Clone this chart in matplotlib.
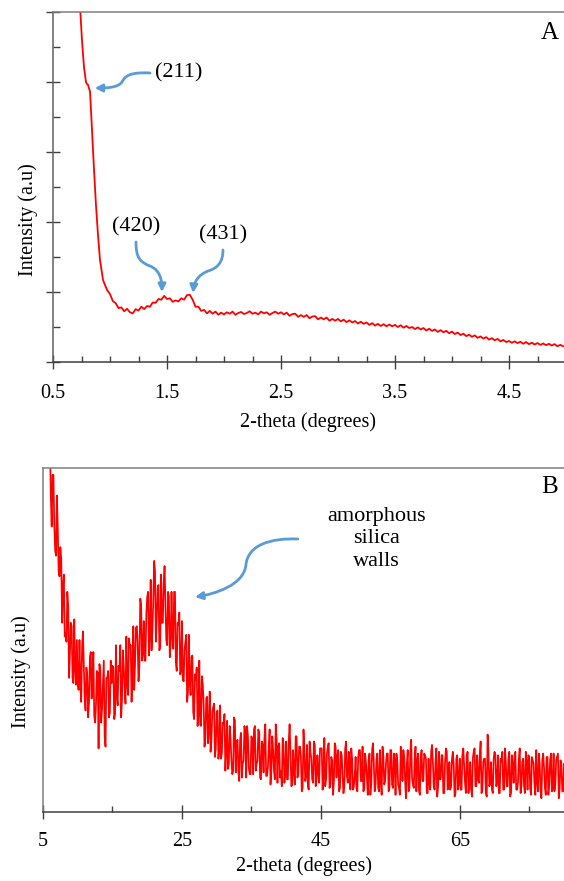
import numpy as np
import matplotlib
matplotlib.use("Agg")
import matplotlib.pyplot as plt
from matplotlib.patches import FancyArrowPatch
from matplotlib.path import Path

plt.rcParams['font.family'] = ['Liberation Serif', 'DejaVu Serif']

# ---------------- data: panel A (low angle XRD) ----------------
# steep part of the low-angle curve, read point by point
a_steep_x = [0.733, 0.754, 0.772, 0.781, 0.789, 0.798, 0.807, 0.816, 0.825,
             0.842, 0.860, 0.877, 0.895, 0.912, 0.939, 0.974]
a_steep_y = [5.20, 4.60, 4.21, 4.10, 4.00, 3.97, 3.96, 3.91, 3.86,
             3.31, 2.74, 2.24, 1.81, 1.46, 1.17, 1.03]

# from 1.0 deg onwards, one value every 0.025 deg
a_start, a_step = 1.0, 0.025
a_y = [
    0.97, 0.87, 0.84, 0.77, 0.78, 0.725, 0.76, 0.71, 0.695, 0.755,
    0.735, 0.79, 0.755, 0.80, 0.79, 0.85, 0.845, 0.90, 0.89, 0.945,
    0.90, 0.91, 0.86, 0.88, 0.865, 0.91, 0.89, 0.955, 0.96, 0.89,
    0.79, 0.79, 0.73, 0.745, 0.695, 0.73, 0.69, 0.72, 0.675, 0.705,
    0.68, 0.71, 0.69, 0.72, 0.675, 0.70, 0.715, 0.685, 0.70, 0.725,
    0.69, 0.705, 0.68, 0.72, 0.695, 0.71, 0.675, 0.70, 0.72, 0.69,
    0.71, 0.68, 0.705, 0.66, 0.685, 0.69, 0.645, 0.67, 0.645, 0.67,
    0.625, 0.65, 0.655, 0.61, 0.635, 0.61, 0.635, 0.59, 0.615, 0.59,
    0.615, 0.58, 0.605, 0.57, 0.595, 0.565, 0.585, 0.55, 0.575, 0.545,
    0.565, 0.53, 0.555, 0.52, 0.545, 0.515, 0.54, 0.51, 0.535, 0.51,
    0.53, 0.50, 0.525, 0.49, 0.515, 0.485, 0.50, 0.47, 0.495, 0.465,
    0.485, 0.45, 0.475, 0.445, 0.465, 0.43, 0.455, 0.425, 0.445, 0.41,
    0.435, 0.40, 0.42, 0.385, 0.405, 0.37, 0.39, 0.36, 0.38, 0.345,
    0.365, 0.335, 0.355, 0.32, 0.34, 0.31, 0.33, 0.295, 0.315, 0.285,
    0.30, 0.275, 0.295, 0.27, 0.29, 0.26, 0.285, 0.255, 0.275, 0.25,
    0.27, 0.245, 0.265, 0.24, 0.26, 0.235, 0.255, 0.225, 0.245, 0.225,
]

# ---------------- data: panel B (wide angle XRD) ----------------
# readings every 0.25 deg starting at 5.5 deg ...
b_start, b_step = 5.5, 0.25
b_y = [
    129, 106, 108, 83, 98, 76, 92, 70, 77, 55, 69, 52, 64, 39, 55, 39, 56, 37,
    37, 50, 32, 52.5, 33, 42, 27.5, 45, 33, 46.5, 26, 41, 18.5, 41, 30, 44, 19, 39, 27.5, 44,
    42.5, 27, 48.5, 31, 41, 27.5, 47, 36, 51, 34, 48, 32, 54, 43, 54, 38, 62, 44, 55.5, 44,
    62.5, 45.5, 67.5, 52.5, 73, 49.5, 65, 47, 69, 55, 71.5, 50, 64, 45, 64, 47.5, 64, 41, 54.5, 40,
    55.5, 38, 49.5, 32, 51.5, 34, 45.5, 27, 38.5, 25, 44, 25, 37, 19, 33, 20, 35, 21, 30.5, 16,
    29, 15.5, 31, 17, 25.5, 12, 26.5, 14, 21.5, 11, 27.5, 11.5, 21, 9, 23, 14, 25, 10, 22, 11,
    22, 11, 25, 14, 24, 10, 20.5, 11.5, 25.5, 10.5, 19, 8, 22, 12, 25.5, 8.5, 20, 12, 21.5, 8.5,
    20.5, 9.5, 25.5, 7.5, 18, 8, 22, 11, 19, 6, 24, 9, 19.5, 6.5, 17.5, 9.5, 20.5, 7.5, 16.5, 8.5,
    18.5, 6.5, 21.5, 9.5, 19, 7, 16, 5, 20, 10, 18, 7, 16.5, 5.5, 18.5, 10.5, 17.5, 6.5, 15.5, 7.5,
    16, 6, 18, 9, 19, 7, 14, 5, 17, 8, 20, 6, 15, 7, 18, 5, 16, 9, 17, 6,
    18, 8, 17, 5, 15, 7, 19, 9, 16, 4, 18, 7, 21, 8, 15, 6, 17, 5, 18, 9,
    16.5, 5.5, 15.5, 6.5, 19.5, 7.5, 14.5, 4.5, 17.5, 9.5, 16.5, 5.5, 18.5, 6.5, 14.5, 7.5, 17.5, 4.5, 15.5, 6.5,
    15.5, 6.5, 18.5, 8.5, 16.5, 5.5, 14.5, 4.5, 17.5, 7.5, 16.5, 8.5, 20.5, 6.5, 15.5, 5.5, 22.5, 7.5, 14.5, 5.5,
    17.5, 7.5, 16.5, 5.5, 14.5, 6.5, 18.5, 7.5, 15.5, 4.5, 16.5, 8.5, 17.5, 6.5, 15.5, 5.5, 14.5, 7.5, 17.5, 6.5,
    16, 5, 15, 8, 18, 6, 14, 4, 17, 7, 16, 5, 15, 6, 17, 8, 16, 4, 15, 6, 14,
]
# ... and the readings half way between them (5.625, 5.875, ...)
b_mid = [
    122, 112, 92, 98, 83.5, 74.5, 82.5, 68.5, 73.5, 65.5, 51, 49.5, 60, 46, 54, 37.5, 42, 50,
    35.5, 37.5, 48, 43, 29.5, 39.5, 32, 46.5, 38.5, 28, 31, 40.5, 43, 26, 37, 22, 39, 41, 29, 37.5,
    42, 28.5, 34, 42.5, 48.5, 33, 42.5, 31.5, 37.5, 50.5, 48.5, 41.5, 35.5, 53.5, 49.5, 42.5, 60.5, 46, 44, 57.5,
    64, 51, 47, 61.5, 70, 56, 66, 48, 55, 66.5, 61, 48.5, 62.5, 48.5, 51, 64, 43.5, 55, 58, 41,
    38.5, 47, 51.5, 35, 37.5, 45, 29, 40, 42, 28.5, 25.5, 39.5, 31.5, 21.5, 33.5, 23.5, 17.5, 29, 31.5, 18.5,
    29.5, 18, 15.5, 26, 28.5, 18, 12.5, 25, 15, 12, 26.5, 20.5, 12, 21, 10, 15, 23, 25, 13, 11,
    21, 24, 12, 15, 23, 9.5, 19.5, 21.5, 10.5, 13, 24, 12, 18, 9.5, 21.5, 19, 10, 7.5, 19.5, 11.5,
    9.5, 20.5, 17.5, 8, 12, 22, 10, 19, 16, 7, 18, 10.5, 7.5, 20.5, 15.5, 8.5, 19.5, 9.5, 11.5, 18.5,
    18.5, 10.5, 7.5, 17, 20, 8, 15, 9, 19, 16, 6, 17.5, 10.5, 7.5, 20.5, 8.5, 15.5, 18.5, 6.5, 10.5,
    7, 16, 18, 9, 6, 17, 10, 15, 5, 18, 14, 8, 17, 6, 9, 19, 8, 14, 17, 7,
    18, 7, 15, 17, 8, 5, 16, 18, 9, 14, 6, 17, 10, 7, 19, 15, 6, 16, 9, 17,
    15.5, 5.5, 8.5, 17.5, 14.5, 6.5, 18.5, 7.5, 9.5, 16.5, 5.5, 14.5, 17.5, 7.5, 6.5, 15.5, 13.5, 5.5, 16.5, 8.5,
    6.5, 16.5, 13.5, 5.5, 17.5, 8.5, 6.5, 15.5, 18.5, 7.5, 9.5, 16.5, 5.5, 14.5, 15.5, 4.5, 17.5, 8.5, 6.5, 15.5,
    16.5, 8.5, 5.5, 15.5, 17.5, 6.5, 14.5, 7.5, 17.5, 5.5, 13.5, 16.5, 6.5, 8.5, 18.5, 7.5, 15.5, 5.5, 14.5, 16.5,
    7, 16, 14, 5, 9, 17, 6, 15, 13, 5, 16, 8, 17, 7, 6, 15, 17, 7, 14, 6,
]

a_major = [0.5, 1.5, 2.5, 3.5, 4.5]
b_major = [5, 25, 45, 65]
b_minor = [15, 35, 55, 75]

red = '#ff0000'
blue = '#5b9bd5'
W, H = 564, 881

x_a = np.concatenate([a_steep_x, a_start + a_step * np.arange(len(a_y))])
y_a = np.concatenate([a_steep_y, a_y])

# interleave the two panel B reading lists
y_b = np.empty(len(b_y) + len(b_mid))
y_b[0::2] = b_y
y_b[1::2] = b_mid
x_b = b_start + (b_step / 2) * np.arange(len(y_b))

fig = plt.figure(figsize=(W / 100, H / 100), dpi=100)
axA = fig.add_axes([53 / W, 1 - 362 / H, 513 / W, 350 / H])
axB = fig.add_axes([43 / W, 1 - 812 / H, 521 / W, 344 / H])

# ---- panel A ----
axA.plot(x_a, y_a, color=red, lw=1.3)
axA.set_xlim(0.5, 5.0)
axA.set_ylim(0, 5)
axA.set_xticks(a_major)
axA.set_xticklabels([f"{v:.1f}" for v in a_major])
axA.set_xticks(np.arange(0.5, 5.0, 0.25), minor=True)
axA.set_yticks(np.arange(0, 5.01, 1))
axA.set_yticklabels([])
axA.set_yticks(np.arange(0.5, 5, 1), minor=True)

# ---- panel B ----
axB.plot(x_b, y_b, color=red, lw=1.25)
axB.set_xlim(5, 80)
axB.set_ylim(0, 100)
axB.set_xticks(b_major)
axB.set_xticks(b_minor, minor=True)
axB.set_yticks([])

for ax, pad in ((axA, 10.5), (axB, 9)):
    ax.tick_params(axis='x', which='major', direction='inout', length=10.5,
                   width=1, color='#404040', labelsize=14.5, pad=pad)
    ax.tick_params(axis='x', which='minor', direction='in', length=4.5,
                   width=1, color='#404040')
    ax.tick_params(axis='y', which='major', direction='inout', length=9.5,
                   width=1, color='#404040')
    ax.tick_params(axis='y', which='minor', direction='in', length=5,
                   width=1, color='#404040')
    ax.spines['right'].set_visible(False)
    ax.spines['top'].set_color('#808080')
    ax.spines['bottom'].set_color('#404040')
    ax.spines['left'].set_color('#606060')
    for s in ax.spines.values():
        s.set_linewidth(1.1)
axB.spines['left'].set_color('#808080')

# axis titles
fig.text(308 / W, 1 - 422 / H, "2-theta (degrees)", ha='center', va='center', fontsize=14.5)
fig.text(304 / W, 1 - 866 / H, "2-theta (degrees)", ha='center', va='center', fontsize=14.5)
fig.text(28 / W, 1 - 220 / H, "Intensity (a.u)", rotation=90, ha='center', va='center', fontsize=14.5)
fig.text(21 / W, 1 - 672 / H, "Intensity (a.u)", rotation=90, ha='center', va='center', fontsize=14.5)

# panel letters
fig.text(550 / W, 1 - 33 / H, "A", ha='center', va='center', fontsize=18)
fig.text(550 / W, 1 - 487 / H, "B", ha='center', va='center', fontsize=18)


def curved_arrow(ax, pts):
    codes = [Path.MOVETO] + [Path.CURVE4] * (len(pts) - 1)
    arr = FancyArrowPatch(path=Path(pts, codes), arrowstyle='-|>', mutation_scale=11,
                          color=blue, lw=2, shrinkA=0, shrinkB=0)
    ax.add_patch(arr)


# peak labels, panel A
axA.text(1.395, 4.13, "(211)", ha='left', va='center', fontsize=16)
curved_arrow(axA, [(1.351, 4.129), (1.175, 4.143), (1.132, 4.086), (1.105, 4.0),
                   (1.070, 3.914), (0.956, 3.914), (0.865, 3.914)])
axA.text(1.228, 1.93, "(420)", ha='center', va='center', fontsize=16)
curved_arrow(axA, [(1.228, 1.714), (1.228, 1.486), (1.263, 1.429), (1.351, 1.371),
                   (1.439, 1.314), (1.456, 1.171), (1.456, 1.0)])
axA.text(1.991, 1.81, "(431)", ha='center', va='center', fontsize=16)
curved_arrow(axA, [(1.991, 1.6), (1.991, 1.429), (1.947, 1.343), (1.860, 1.3),
                   (1.772, 1.243), (1.737, 1.143), (1.728, 0.986)])

# amorphous halo, panel B
axB.text(53.0, 79.4, "amorphous\nsilica\nwalls", ha='center', va='center',
         fontsize=16, linespacing=1.25)
curved_arrow(axB, [(41.69, 79.36), (37.66, 79.65), (34.50, 77.62), (34.21, 71.80),
                   (33.92, 65.99), (29.75, 63.37), (26.87, 62.50)])

fig.savefig("out.png", dpi=100)
